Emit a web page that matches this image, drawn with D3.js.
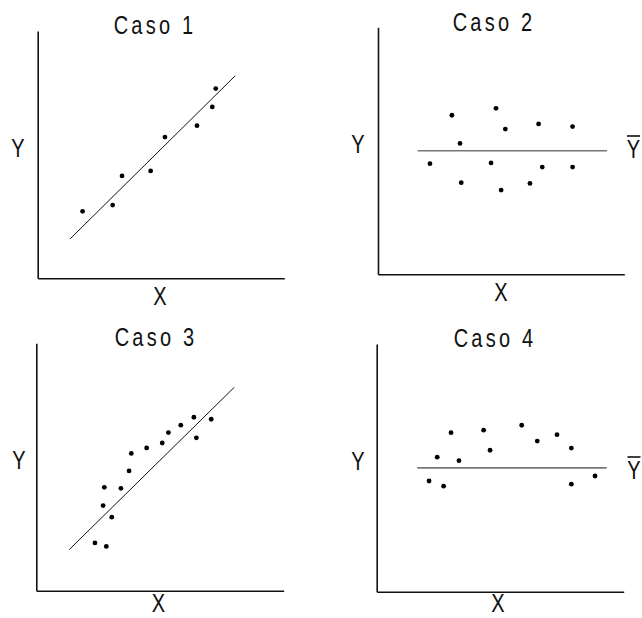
<!DOCTYPE html>
<html><head><meta charset="utf-8">
<script src="https://cdn.jsdelivr.net/npm/d3@7/dist/d3.min.js"></script>
<style>
html,body{margin:0;padding:0;background:#fff;}
svg{display:block;}
text{font-family:"Liberation Sans",Arial,sans-serif;fill:#111;}
</style></head>
<body>
<svg id="chart" width="642" height="618"></svg>
<script>
// ---- Data (axis units 0..10 in each panel) ----
const titles = ["Caso 1", "Caso 2", "Caso 3", "Caso 4"];
const axisLabelX = "X";
const axisLabelY = "Y";
const meanLabel = "Y";

const caso1X = [1.82, 3.04, 3.42, 4.58, 5.16, 6.46, 7.08, 7.22];
const caso1Y = [2.71, 2.96, 4.14, 4.34, 5.71, 6.17, 6.93, 7.67];
const caso1LineX = [1.32, 8.01];
const caso1LineY = [1.60, 8.19];

const caso2X = [2.11, 3.00, 3.33, 3.38, 4.59, 4.79, 5.00, 5.17, 6.17, 6.52, 6.67, 7.90, 7.90];
const caso2Y = [4.48, 6.44, 5.30, 3.71, 4.51, 6.72, 3.41, 5.88, 3.68, 6.09, 4.34, 5.98, 4.34];
const caso2MeanX = [1.61, 9.30];
const caso2Mean = 5.0;

const caso3X = [2.37, 2.83, 2.70, 2.75, 3.05, 3.42, 3.75, 3.84, 4.46, 5.09, 5.34, 5.84, 6.37, 6.47, 7.07];
const caso3Y = [1.93, 1.79, 3.44, 4.18, 2.97, 4.14, 4.84, 5.55, 5.77, 5.97, 6.39, 6.69, 7.01, 6.18, 6.93];
const caso3LineX = [1.33, 8.00];
const caso3LineY = [1.66, 8.22];

const caso4X = [2.12, 2.45, 2.71, 3.01, 3.33, 4.33, 4.59, 5.87, 6.50, 7.30, 7.88, 7.88, 8.84];
const caso4Y = [4.47, 5.43, 4.26, 6.42, 5.29, 6.52, 5.71, 6.72, 6.08, 6.34, 5.80, 4.34, 4.67];
const caso4MeanX = [1.64, 9.31];
const caso4Mean = 5.0;

const domain = [0, 10];

// ---- Layout ----
const svg = d3.select("#chart");
const panels = [
  {left: 37.7, bottom: 278.3, w: 246.6, h: 247.3, xs: caso1X, ys: caso1Y, fit: {x: caso1LineX, y: caso1LineY},
   title: titles[0], titlePos: [155, 34], yLab: [18, 157], xLab: [160, 305]},
  {left: 378, bottom: 274.3, w: 246.3, h: 247, xs: caso2X, ys: caso2Y, mean: {x: caso2MeanX, y: caso2Mean},
   title: titles[1], titlePos: [494, 31], yLab: [358, 153], xLab: [501, 301]},
  {left: 36.3, bottom: 590.7, w: 247.4, h: 247.4, xs: caso3X, ys: caso3Y, fit: {x: caso3LineX, y: caso3LineY},
   title: titles[2], titlePos: [156, 346], yLab: [19, 469], xLab: [158.5, 612]},
  {left: 376.7, bottom: 591.7, w: 247, h: 247.7, xs: caso4X, ys: caso4Y, mean: {x: caso4MeanX, y: caso4Mean},
   title: titles[3], titlePos: [495, 347], yLab: [358, 470], xLab: [498, 612]}
];
const meanPositions = [null, [633.5, 158], null, [634, 479]];

const FS = 25, SX = 0.8;
function label(g, str, x, y, ls) {
  g.append("text")
    .attr("transform", `translate(${x},${y}) scale(${SX},1)`)
    .attr("text-anchor", "middle")
    .style("font-size", FS + "px")
    .style("letter-spacing", (ls || 0) + "px")
    .text(str);
}

panels.forEach((p, k) => {
  const x = d3.scaleLinear().domain(domain).range([p.left, p.left + p.w]);
  const y = d3.scaleLinear().domain(domain).range([p.bottom, p.bottom - p.h]);
  const g = svg.append("g");

  // axes (domain lines only)
  g.append("g").attr("transform", `translate(0,${p.bottom})`)
    .call(d3.axisBottom(x).tickValues([]).tickSizeOuter(0))
    .call(a => a.select(".domain").attr("stroke", "#111").attr("stroke-width", 1.6));
  g.append("g").attr("transform", `translate(${p.left},0)`)
    .call(d3.axisLeft(y).tickValues([]).tickSizeOuter(0))
    .call(a => a.select(".domain").attr("stroke", "#111").attr("stroke-width", 1.6));

  if (p.fit) {
    g.append("line")
      .attr("x1", x(p.fit.x[0])).attr("y1", y(p.fit.y[0]))
      .attr("x2", x(p.fit.x[1])).attr("y2", y(p.fit.y[1]))
      .attr("stroke", "#111").attr("stroke-width", 1);
  }
  if (p.mean) {
    g.append("line")
      .attr("x1", x(p.mean.x[0])).attr("y1", y(p.mean.y))
      .attr("x2", x(p.mean.x[1])).attr("y2", y(p.mean.y))
      .attr("stroke", "#777").attr("stroke-width", 1.6);
  }

  g.selectAll("circle").data(p.xs.map((v, i) => [v, p.ys[i]])).join("circle")
    .attr("cx", d => x(d[0])).attr("cy", d => y(d[1])).attr("r", 2.4).attr("fill", "#000");

  label(g, p.title, p.titlePos[0], p.titlePos[1], 4);
  label(g, axisLabelY, p.yLab[0], p.yLab[1]);
  label(g, axisLabelX, p.xLab[0], p.xLab[1]);
  const mp = meanPositions[k];
  if (mp) {
    label(g, meanLabel, mp[0], mp[1]);
    g.append("line")
      .attr("x1", mp[0] - 6.5).attr("x2", mp[0] + 6.5)
      .attr("y1", mp[1] - 22).attr("y2", mp[1] - 22)
      .attr("stroke", "#111").attr("stroke-width", 1.6);
  }
});
</script>
</body></html>
